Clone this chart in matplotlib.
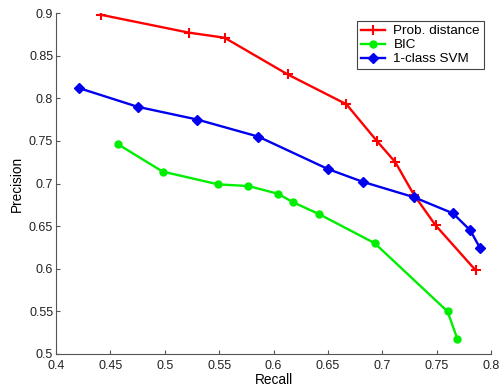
import matplotlib
matplotlib.use("Agg")
import matplotlib.pyplot as plt

plt.rcParams['font.family'] = ['Liberation Sans', 'DejaVu Sans']

# recall / precision for the three methods
prob_recall = [0.441, 0.522, 0.555, 0.613, 0.667, 0.695, 0.712, 0.729, 0.749, 0.786]
prob_precision = [0.898, 0.877, 0.871, 0.828, 0.793, 0.750, 0.725, 0.687, 0.651, 0.598]

bic_recall = [0.457, 0.498, 0.549, 0.577, 0.604, 0.618, 0.642, 0.693, 0.760, 0.769]
bic_precision = [0.746, 0.714, 0.699, 0.697, 0.688, 0.678, 0.664, 0.630, 0.550, 0.518]

svm_recall = [0.421, 0.475, 0.530, 0.586, 0.650, 0.682, 0.729, 0.765, 0.781, 0.790]
svm_precision = [0.812, 0.790, 0.775, 0.755, 0.717, 0.702, 0.684, 0.665, 0.645, 0.624]

xticks = [0.4, 0.45, 0.5, 0.55, 0.6, 0.65, 0.7, 0.75, 0.8]
yticks = [0.5, 0.55, 0.6, 0.65, 0.7, 0.75, 0.8, 0.85, 0.9]

fig = plt.figure(figsize=(5, 3.88), dpi=100)
ax = fig.add_axes([56 / 500, 1 - 354 / 388, 435 / 500, 341 / 388])

ax.plot(prob_recall, prob_precision, color='#ff0000', lw=1.7, marker='+', ms=7, mew=1.5, label='Prob. distance')
ax.plot(bic_recall, bic_precision, color='#00ee00', lw=1.7, marker='o', ms=5, label='BIC')
ax.plot(svm_recall, svm_precision, color='#0000ee', lw=1.7, marker='D', ms=5, label='1-class SVM')

ax.set_xlim(0.4, 0.8)
ax.set_ylim(0.5, 0.9)
ax.set_xticks(xticks)
ax.set_xticklabels([f"{t:g}" for t in xticks])
ax.set_yticks(yticks)
ax.set_yticklabels([f"{t:g}" for t in yticks])
ax.tick_params(direction='in', length=3, labelsize=9, color='#555555', labelcolor='#222222')
ax.tick_params(axis='x', pad=4)
ax.tick_params(axis='y', pad=2)
ax.spines['top'].set_visible(False)
ax.spines['right'].set_visible(False)
ax.spines['left'].set_color('#555555')
ax.spines['bottom'].set_color('#555555')

ax.set_xlabel('Recall', fontsize=9.8, labelpad=1)
ax.set_ylabel('Precision', fontsize=9.8, labelpad=4)

leg = ax.legend(loc='upper right', bbox_to_anchor=(0.99, 0.985), fontsize=9.7, fancybox=False,
                framealpha=1, edgecolor='#444444', handlelength=1.8, borderpad=0.3,
                labelspacing=0.12, handletextpad=0.6, borderaxespad=0.2)
leg.get_frame().set_linewidth(0.8)

fig.savefig('out.png', dpi=100)
